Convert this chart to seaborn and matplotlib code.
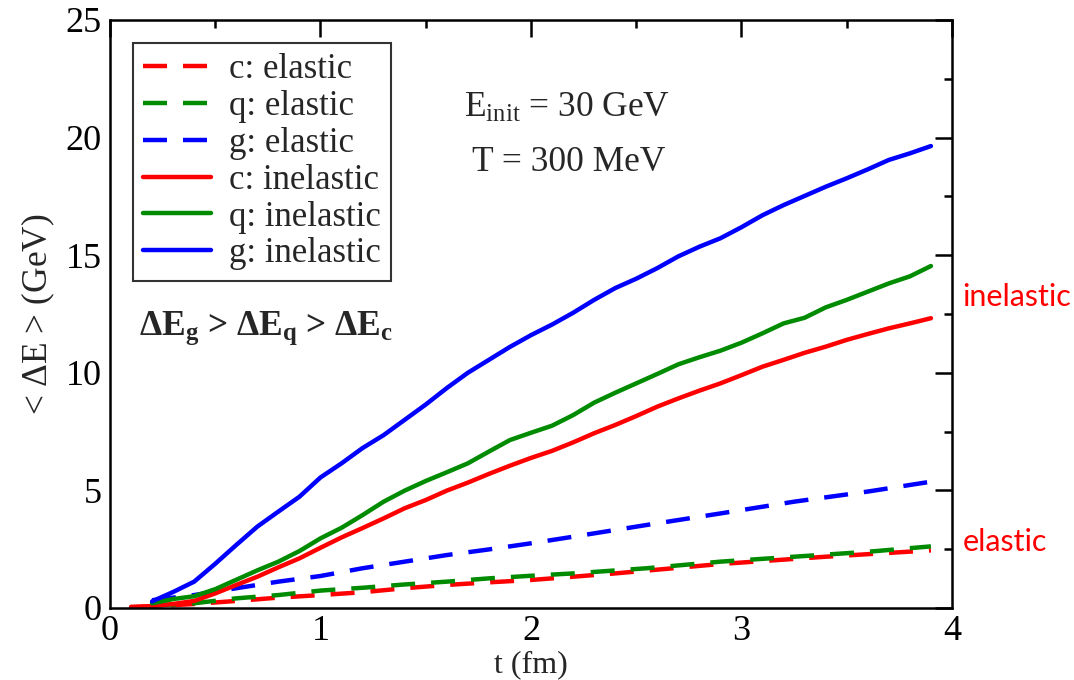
import numpy as np
import pandas as pd
import matplotlib
matplotlib.use("Agg")
import matplotlib.pyplot as plt
import seaborn as sns
from matplotlib.ticker import MultipleLocator

# ---------------- data ----------------
t_c_inel = [0.1, 0.2, 0.3, 0.4, 0.5, 0.6, 0.7, 0.8, 0.9, 1.0, 1.1, 1.2, 1.3, 1.4, 1.5,
            1.6, 1.7, 1.8, 1.9, 2.0, 2.1, 2.2, 2.3, 2.4, 2.5, 2.6, 2.7, 2.8, 2.9, 3.0,
            3.1, 3.2, 3.3, 3.4, 3.5, 3.6, 3.7, 3.8, 3.9]
c_inel = [0.05, 0.08, 0.17, 0.30, 0.62, 0.98, 1.33, 1.73, 2.11, 2.56, 3.00, 3.40, 3.81,
          4.24, 4.59, 4.99, 5.33, 5.70, 6.05, 6.38, 6.68, 7.04, 7.43, 7.78, 8.16, 8.56,
          8.91, 9.24, 9.55, 9.90, 10.26, 10.55, 10.85, 11.11, 11.40, 11.65, 11.89, 12.10, 12.32]

t_q_inel = [0.2, 0.3, 0.4, 0.5, 0.6, 0.7, 0.8, 0.9, 1.0, 1.1, 1.2, 1.3, 1.4, 1.5, 1.6,
            1.7, 1.8, 1.9, 2.0, 2.1, 2.2, 2.3, 2.4, 2.5, 2.6, 2.7, 2.8, 2.9, 3.0, 3.1,
            3.2, 3.3, 3.4, 3.5, 3.6, 3.7, 3.8, 3.9]
q_inel = [0.20, 0.38, 0.50, 0.80, 1.20, 1.60, 1.97, 2.42, 2.96, 3.41, 3.95, 4.52, 4.99,
          5.40, 5.77, 6.15, 6.65, 7.14, 7.45, 7.75, 8.20, 8.73, 9.15, 9.55, 9.95, 10.36,
          10.66, 10.94, 11.28, 11.68, 12.10, 12.34, 12.78, 13.10, 13.45, 13.80, 14.10, 14.54]

t_g_inel = [0.2, 0.3, 0.4, 0.5, 0.6, 0.7, 0.8, 0.9, 1.0, 1.1, 1.2, 1.3, 1.4, 1.5, 1.6,
            1.7, 1.8, 1.9, 2.0, 2.1, 2.2, 2.3, 2.4, 2.5, 2.6, 2.7, 2.8, 2.9, 3.0, 3.1,
            3.2, 3.3, 3.4, 3.5, 3.6, 3.7, 3.8, 3.9]
g_inel = [0.28, 0.68, 1.12, 1.88, 2.68, 3.46, 4.10, 4.73, 5.55, 6.15, 6.80, 7.35, 8.00,
          8.65, 9.35, 10.00, 10.55, 11.10, 11.60, 12.05, 12.55, 13.10, 13.60, 14.00,
          14.45, 14.95, 15.36, 15.72, 16.19, 16.70, 17.13, 17.52, 17.91, 18.27, 18.65,
          19.05, 19.33, 19.64]

t_c_el = [0.1, 0.4, 0.6, 0.8, 1.0, 1.2, 1.4, 1.6, 1.8, 2.0, 2.4, 2.9, 3.4, 3.9]
c_el = [0.02, 0.17, 0.30, 0.44, 0.55, 0.67, 0.84, 0.98, 1.09, 1.19, 1.47, 1.87, 2.18, 2.45]

t_q_el = [0.2, 0.4, 0.6, 0.8, 1.0, 1.2, 1.4, 1.6, 1.8, 2.0, 2.2, 2.55, 2.9, 3.25, 3.6, 3.9]
q_el = [0.10, 0.20, 0.41, 0.55, 0.74, 0.86, 1.00, 1.12, 1.26, 1.37, 1.47, 1.69, 1.97,
        2.18, 2.39, 2.62]

t_g_el = [0.2, 0.4, 0.6, 0.8, 1.0, 1.2, 1.4, 1.6, 1.8, 2.0, 2.2, 2.55, 2.9, 3.25, 3.6, 3.9]
g_el = [0.33, 0.55, 0.84, 1.12, 1.36, 1.69, 1.97, 2.25, 2.49, 2.75, 3.03, 3.53, 4.02,
        4.52, 4.95, 5.37]

series_labels = ["c: elastic", "q: elastic", "g: elastic",
                 "c: inelastic", "q: inelastic", "g: inelastic"]
x_ticks = [0, 1, 2, 3, 4]
y_ticks = [0, 5, 10, 15, 20, 25]

# ---------------- style ----------------
sns.set_style("white")
plt.rcParams["font.family"] = ["Liberation Serif", "DejaVu Serif"]
plt.rcParams["mathtext.fontset"] = "custom"
plt.rcParams["mathtext.rm"] = "Liberation Serif"
plt.rcParams["mathtext.it"] = "Liberation Serif:italic"
plt.rcParams["mathtext.bf"] = "Liberation Serif:bold"

RED, GREEN, BLUE = "#ff0000", "#008b00", "#0000ff"
LW = 3.2
DASH = (0, (5.4, 3.6))

fig = plt.figure(figsize=(10.74, 6.8), dpi=100)
ax = fig.add_axes([0.1024, 0.1059, 0.7840, 0.8647])

datasets = [
    (t_c_el, c_el, RED, DASH),
    (t_q_el, q_el, GREEN, DASH),
    (t_g_el, g_el, BLUE, DASH),
    (t_c_inel, c_inel, RED, "-"),
    (t_q_inel, q_inel, GREEN, "-"),
    (t_g_inel, g_inel, BLUE, "-"),
]
handles = []
for (tx, vy, col, ls), lab in zip(datasets, series_labels):
    df = pd.DataFrame({"t": tx, "dE": vy})
    n_before = len(ax.get_lines())
    sns.lineplot(data=df, x="t", y="dE", color=col, linestyle=ls, linewidth=LW,
                 estimator=None, sort=False, ax=ax, label=lab, legend=False)
    handles.append(ax.get_lines()[n_before])

ax.set_xlim(0, 4)
ax.set_ylim(0, 25)
ax.set_xticks(x_ticks)
ax.set_yticks(y_ticks)
ax.xaxis.set_minor_locator(MultipleLocator(0.5))
ax.yaxis.set_minor_locator(MultipleLocator(2.5))
ax.tick_params(which="both", direction="in", top=True, right=True, width=1.8,
               labelsize=26, colors="black")
ax.tick_params(which="major", length=12, pad=6)
ax.tick_params(axis="x", which="major", pad=5)
ax.tick_params(which="minor", length=6)
for sp in ax.spines.values():
    sp.set_linewidth(1.8)
    sp.set_color("black")

ax.set_xlabel("t (fm)", fontsize=23, labelpad=1.5)
ax.set_ylabel(r"< $\Delta$E > (GeV)", fontsize=25.5, labelpad=6)

leg = ax.legend(handles=handles, labels=series_labels, loc="upper left",
                bbox_to_anchor=(0.027, 0.961), borderaxespad=0, fontsize=25,
                handlelength=1.95, handletextpad=0.52, labelspacing=0.11,
                borderpad=0.3, frameon=True, fancybox=False)
leg.get_frame().set_edgecolor("black")
leg.get_frame().set_linewidth(1.5)

ax.text(2.17, 21.26, r"E$_{\rm init}$ = 30 GeV", fontsize=25.5, ha="center", va="center")
ax.text(2.18, 18.92, "T = 300 MeV", fontsize=25.5, ha="center", va="center")
ax.text(0.14, 11.9, r"$\mathbf{\Delta E_g}$ > $\mathbf{\Delta E_q}$ > $\mathbf{\Delta E_c}$",
        fontsize=25.5, fontweight="bold", ha="left", va="center")

ax.text(4.05, 12.84, "inelastic", fontsize=22, color="red", ha="left", va="baseline",
        family=["Lato", "DejaVu Sans"], clip_on=False)
ax.text(4.05, 2.42, "elastic", fontsize=22, color="red", ha="left", va="baseline",
        family=["Lato", "DejaVu Sans"], clip_on=False)

fig.savefig("out.png", dpi=100, facecolor="white")
